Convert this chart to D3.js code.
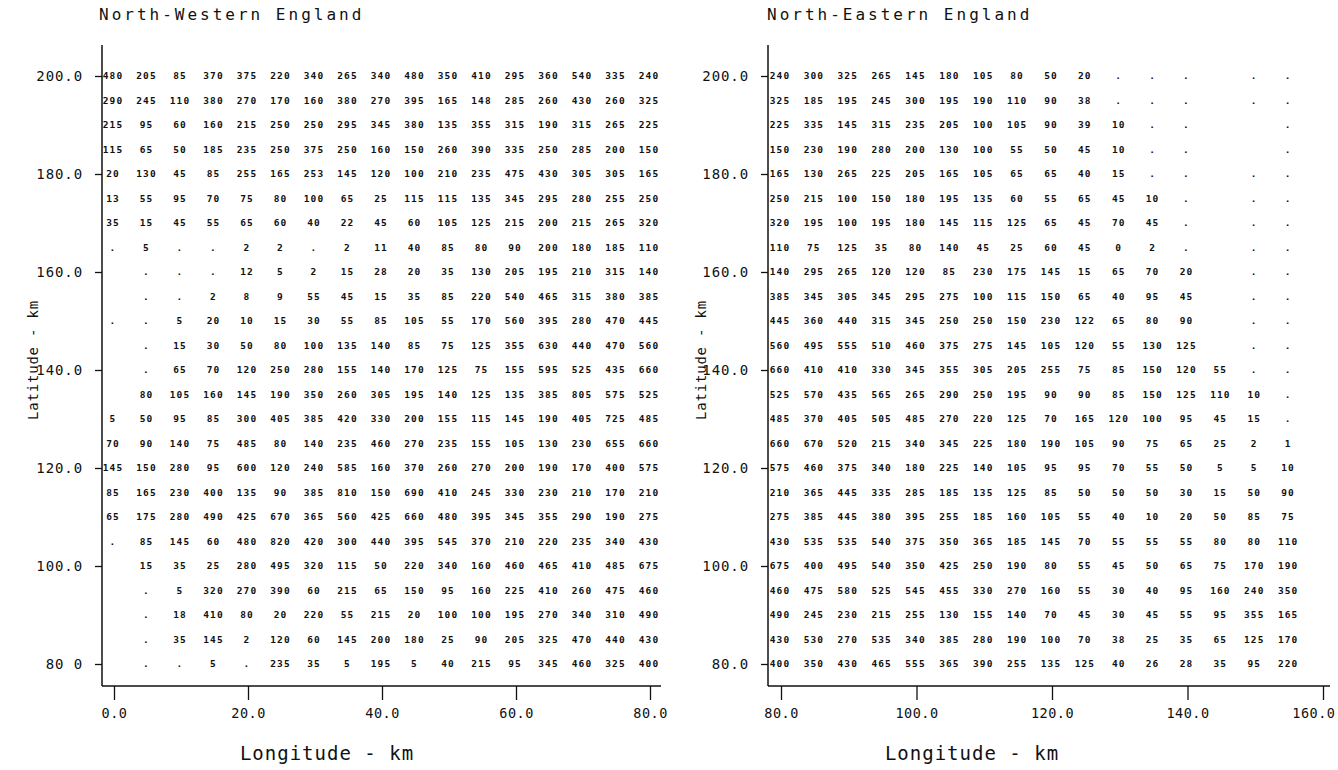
<!doctype html>
<html>
<head>
<meta charset="utf-8">
<title>England grid</title>
<script src="https://d3js.org/d3.v7.min.js"></script>
<style>
body { margin: 0; background: white; }
svg { display: block; }
.cell { font-family: "DejaVu Sans Mono", monospace; font-weight: bold; font-size: 9.5px; letter-spacing: 1.1px; fill: #111; }
.tick text { font-family: "DejaVu Sans Mono", monospace; font-size: 14px; letter-spacing: 0.9px; fill: #111; }
.xaxis .tick text { font-size: 13.5px; letter-spacing: 0.5px; }
.title { font-family: "DejaVu Sans Mono", monospace; font-size: 16px; letter-spacing: 3px; fill: #111; }
.xlab { font-family: "DejaVu Sans Mono", monospace; font-size: 19px; letter-spacing: 1px; fill: #111; }
.ylab { font-family: "DejaVu Sans Mono", monospace; font-size: 14px; letter-spacing: 0.8px; fill: #111; }
</style>
</head>
<body>
<div id="chart"></div>
<script>
// grid rows (latitude, km) from top to bottom
var rows = [200,195,190,185,180,175,170,165,160,155,150,145,140,135,130,125,120,115,110,105,100,95,90,85,80];

// North-Western England: columns 0..80 km
var westCols = [0,5,10,15,20,25,30,35,40,45,50,55,60,65,70,75,80];
var westValues = [
  [480,205,85,370,375,220,340,265,340,480,350,410,295,360,540,335,240],
  [290,245,110,380,270,170,160,380,270,395,165,148,285,260,430,260,325],
  [215,95,60,160,215,250,250,295,345,380,135,355,315,190,315,265,225],
  [115,65,50,185,235,250,375,250,160,150,260,390,335,250,285,200,150],
  [20,130,45,85,255,165,253,145,120,100,210,235,475,430,305,305,165],
  [13,55,95,70,75,80,100,65,25,115,115,135,345,295,280,255,250],
  [35,15,45,55,65,60,40,22,45,60,105,125,215,200,215,265,320],
  [".",5,".",".",2,2,".",2,11,40,85,80,90,200,180,185,110],
  [null,".",".",".",12,5,2,15,28,20,35,130,205,195,210,315,140],
  [null,".",".",2,8,9,55,45,15,35,85,220,540,465,315,380,385],
  [".",".",5,20,10,15,30,55,85,105,55,170,560,395,280,470,445],
  [null,".",15,30,50,80,100,135,140,85,75,125,355,630,440,470,560],
  [null,".",65,70,120,250,280,155,140,170,125,75,155,595,525,435,660],
  [null,80,105,160,145,190,350,260,305,195,140,125,135,385,805,575,525],
  [5,50,95,85,300,405,385,420,330,200,155,115,145,190,405,725,485],
  [70,90,140,75,485,80,140,235,460,270,235,155,105,130,230,655,660],
  [145,150,280,95,600,120,240,585,160,370,260,270,200,190,170,400,575],
  [85,165,230,400,135,90,385,810,150,690,410,245,330,230,210,170,210],
  [65,175,280,490,425,670,365,560,425,660,480,395,345,355,290,190,275],
  [".",85,145,60,480,820,420,300,440,395,545,370,210,220,235,340,430],
  [null,15,35,25,280,495,320,115,50,220,340,160,460,465,410,485,675],
  [null,".",5,320,270,390,60,215,65,150,95,160,225,410,260,475,460],
  [null,".",18,410,80,20,220,55,215,20,100,100,195,270,340,310,490],
  [null,".",35,145,2,120,60,145,200,180,25,90,205,325,470,440,430],
  [null,".",".",5,".",235,35,5,195,5,40,215,95,345,460,325,400]
];

// North-Eastern England: columns 80..155 km
var eastCols = [80,85,90,95,100,105,110,115,120,125,130,135,140,145,150,155];
var eastValues = [
  [240,300,325,265,145,180,105,80,50,20,".",".",".",null,".","."],
  [325,185,195,245,300,195,190,110,90,38,".",".",".",null,".","."],
  [225,335,145,315,235,205,100,105,90,39,10,".",".",null,null,"."],
  [150,230,190,280,200,130,100,55,50,45,10,".",".",null,null,"."],
  [165,130,265,225,205,165,105,65,65,40,15,".",".",null,".","."],
  [250,215,100,150,180,195,135,60,55,65,45,10,".",null,".","."],
  [320,195,100,195,180,145,115,125,65,45,70,45,".",null,".","."],
  [110,75,125,35,80,140,45,25,60,45,0,2,".",null,".","."],
  [140,295,265,120,120,85,230,175,145,15,65,70,20,null,".","."],
  [385,345,305,345,295,275,100,115,150,65,40,95,45,null,".","."],
  [445,360,440,315,345,250,250,150,230,122,65,80,90,null,".","."],
  [560,495,555,510,460,375,275,145,105,120,55,130,125,null,".","."],
  [660,410,410,330,345,355,305,205,255,75,85,150,120,55,".","."],
  [525,570,435,565,265,290,250,195,90,90,85,150,125,110,10,"."],
  [485,370,405,505,485,270,220,125,70,165,120,100,95,45,15,"."],
  [660,670,520,215,340,345,225,180,190,105,90,75,65,25,2,1],
  [575,460,375,340,180,225,140,105,95,95,70,55,50,5,5,10],
  [210,365,445,335,285,185,135,125,85,50,50,50,30,15,50,90],
  [275,385,445,380,395,255,185,160,105,55,40,10,20,50,85,75],
  [430,535,535,540,375,350,365,185,145,70,55,55,55,80,80,110],
  [675,400,495,540,350,425,250,190,80,55,45,50,65,75,170,190],
  [460,475,580,525,545,455,330,270,160,55,30,40,95,160,240,350],
  [490,245,230,215,255,130,155,140,70,45,30,45,55,95,355,165],
  [430,530,270,535,340,385,280,190,100,70,38,25,35,65,125,170],
  [400,350,430,465,555,365,390,255,135,125,40,26,28,35,95,220]
];

// ticks
var yTicks = [80,100,120,140,160,180,200];
var westYTickLabels = ["80 0","100.0","120.0","140.0","160.0","180.0","200.0"];
var eastYTickLabels = ["80.0","100.0","120.0","140.0","160.0","180.0","200.0"];
var westXTicks = [0,20,40,60,80];
var eastXTicks = [80,100,120,140,160];

var W = 1338, H = 770;
var svg = d3.select("#chart").append("svg")
  .attr("width", W)
  .attr("height", H);

var y = d3.scaleLinear().domain([80, 200]).range([664, 76]);

function drawPanel(cfg) {
  var x = d3.scaleLinear().domain(cfg.xDomain).range(cfg.xRange);
  var g = svg.append("g");

  // title
  g.append("text").attr("class", "title")
    .attr("x", cfg.titleX).attr("y", 20)
    .text(cfg.title);

  // axis lines
  g.append("line")
    .attr("x1", cfg.axisX).attr("x2", cfg.axisX)
    .attr("y1", 45).attr("y2", 686)
    .attr("stroke", "#111").attr("stroke-width", 1.5);
  g.append("line")
    .attr("x1", cfg.axisX).attr("x2", cfg.axisEnd)
    .attr("y1", 686).attr("y2", 686)
    .attr("stroke", "#111").attr("stroke-width", 1.5);

  // y axis
  g.append("g")
    .attr("transform", "translate(" + cfg.axisX + ",0)")
    .call(d3.axisLeft(y).tickValues(yTicks)
      .tickFormat(function(d, i) { return cfg.yLabels[i]; })
      .tickSize(7).tickPadding(12))
    .call(function(a) { a.select(".domain").remove(); })
    .call(function(a) { a.selectAll(".tick line").attr("stroke", "#111").attr("stroke-width", 1.3); });

  // x axis
  var xa = g.append("g")
    .attr("class", "xaxis")
    .attr("transform", "translate(0,686)")
    .call(d3.axisBottom(x).tickValues(cfg.xTicks)
      .tickFormat(d3.format(".1f"))
      .tickSize(14).tickPadding(8))
    .call(function(a) { a.select(".domain").remove(); })
    .call(function(a) { a.selectAll(".tick line").attr("stroke", "#111").attr("stroke-width", 1.3); });

  // keep the last tick label inside the page
  xa.selectAll(".tick").each(function(d) {
    var t = d3.select(this).select("text");
    var half = t.node().getComputedTextLength() / 2;
    var over = x(d) + half - (W - 3);
    if (over > 0) t.attr("x", -over);
  });

  // axis labels
  g.append("text").attr("class", "xlab")
    .attr("x", cfg.xLabelX).attr("y", 760)
    .attr("text-anchor", "middle")
    .text("Longitude - km");
  g.append("text").attr("class", "ylab")
    .attr("transform", "translate(" + cfg.yLabelX + ",360) rotate(-90)")
    .attr("text-anchor", "middle")
    .text("Latitude - km");

  // grid values
  var cells = [];
  cfg.values.forEach(function(row, r) {
    row.forEach(function(v, c) {
      if (v !== null) cells.push({ lat: rows[r], lon: cfg.cols[c], v: v });
    });
  });
  g.selectAll("text.cell").data(cells).enter()
    .append("text").attr("class", "cell")
    .attr("x", function(d) { return x(d.lon) - 1; })
    .attr("y", function(d) { return y(d.lat); })
    .attr("dy", "0.35em")
    .attr("text-anchor", "middle")
    .text(function(d) { return d.v; });
}

drawPanel({
  title: "North-Western England", titleX: 99,
  xDomain: [0, 80], xRange: [114, 650],
  axisX: 102, axisEnd: 661,
  xTicks: westXTicks, yLabels: westYTickLabels,
  xLabelX: 327, yLabelX: 38,
  cols: westCols, values: westValues
});

drawPanel({
  title: "North-Eastern England", titleX: 767,
  xDomain: [80, 160], xRange: [781, 1323],
  axisX: 768, axisEnd: 1330,
  xTicks: eastXTicks, yLabels: eastYTickLabels,
  xLabelX: 972, yLabelX: 706,
  cols: eastCols, values: eastValues
});
</script>
</body>
</html>
